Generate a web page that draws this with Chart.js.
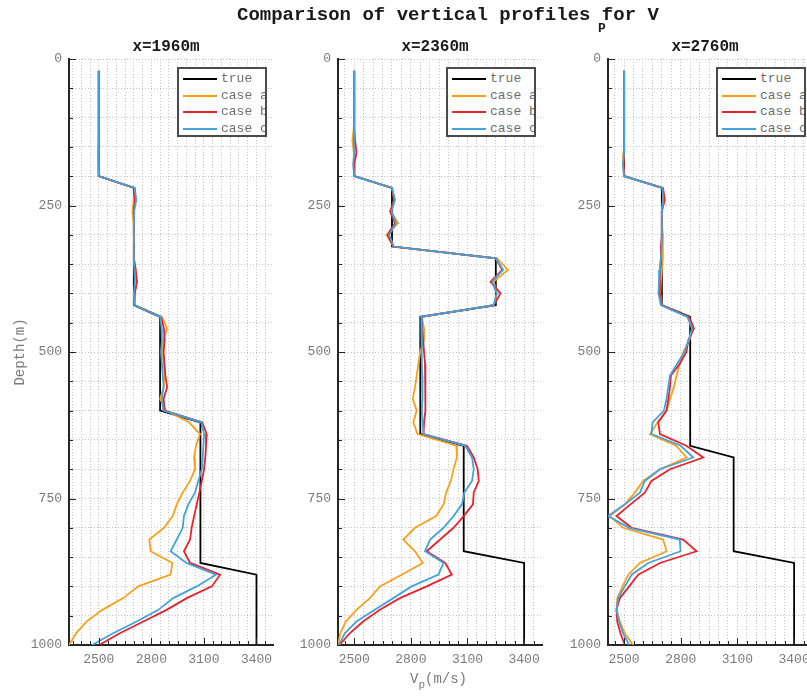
<!DOCTYPE html>
<html>
<head>
<meta charset="utf-8">
<script src="https://cdn.jsdelivr.net/npm/chart.js@4.4.1/dist/chart.umd.min.js"></script>
<style>
  body { margin: 0; background: #fff; }
  #wrap {
    position: relative; width: 807px; height: 696px; overflow: hidden; background: #fff;
    font-family: "Liberation Mono", "DejaVu Sans Mono", monospace;
  }
  canvas { position: absolute; top: 0; }
  .main-title { position: absolute; left: 237px; top: 4px; font-size: 19px; font-weight: bold; line-height: 22px; color: #1a1a1a; white-space: nowrap; }
  .main-sub { position: absolute; left: 598px; top: 21px; font-size: 13px; font-weight: bold; line-height: 16px; color: #1a1a1a; }
  .sub-title { position: absolute; top: 38px; width: 200px; text-align: center; font-size: 16px; font-weight: bold; line-height: 18px; color: #1a1a1a; }
  .legend { position: absolute; top: 67px; width: 90px; height: 70px; box-sizing: border-box; border: 2px solid #4a4a4a; background: #fff; overflow: hidden; }
  .legend .row { position: absolute; left: 0; width: 200px; height: 16px; }
  .legend .swatch { position: absolute; left: 4px; top: 7px; width: 34px; height: 2px; }
  .legend .label { position: absolute; left: 42px; top: 0; font-size: 13px; line-height: 16px; color: #6e6e6e; white-space: nowrap; }
  .x-label { position: absolute; left: 410px; top: 671px; font-size: 14px; line-height: 16px; color: #7a7a7a; white-space: nowrap; }
  .x-label sub { font-size: 11px; vertical-align: -5px; line-height: 0; }
</style>
</head>
<body>
<div id="wrap">
  <canvas id="p1" width="274" height="696" style="left:0px"></canvas>
  <canvas id="p2" width="274" height="696" style="left:269px"></canvas>
  <canvas id="p3" width="274" height="696" style="left:539px"></canvas>
  <div class="main-title">Comparison of vertical profiles for V</div>
  <div class="main-sub">P</div>
  <div class="x-label">V<sub>p</sub>(m/s)</div>
</div>
<script>
// depth samples (m)
const depth = [20, 40, 60, 80, 100, 120, 140, 160, 180, 200,
  220, 240, 260, 280, 300, 320, 340, 360, 380, 400,
  420, 440, 460, 480, 500, 520, 540, 560, 580, 600,
  620, 640, 660, 680, 700, 720, 740, 760, 780, 800,
  820, 840, 860, 880, 900, 920, 940, 960, 980, 1000];

const xMajorTicks = [2500, 2800, 3100, 3400];
const yMajorTicks = [0, 250, 500, 750, 1000];
const panelTitles = ["x=1960m", "x=2360m", "x=2760m"];
const seriesNames = ["true", "case a", "case b", "case c"];
const seriesColors = ["#000000", "#f8a01c", "#e8222c", "#43a3dc"];

// x=1960m
const true1 = [2500, 2500, 2500, 2500, 2500, 2500, 2500, 2500, 2500, 2500,
  2700, 2700, 2700, 2700, 2700, 2700, 2700, 2700, 2700, 2700, 2700,
  2850, 2850, 2850, 2850, 2850, 2850, 2850, 2850, 2850,
  3080, 3080, 3080, 3080, 3080, 3080, 3080, 3080, 3080, 3080, 3080, 3080, 3080,
  3400, 3400, 3400, 3400, 3400, 3400, 3400];
const caseA1 = [2500, 2500, 2500, 2500, 2500, 2500, 2497, 2495, 2497, 2500,
  2705, 2700, 2692, 2700, 2702, 2700, 2700, 2712, 2716, 2706, 2705,
  2860, 2890, 2868, 2866, 2870, 2876, 2870, 2850, 2882,
  3015, 3078, 3055, 3044, 3049, 3021, 2979, 2945, 2922, 2872, 2788, 2796, 2920,
  2910, 2725, 2640, 2520, 2430, 2370, 2330];
const caseB1 = [2500, 2500, 2500, 2500, 2500, 2500, 2497, 2497, 2498, 2500,
  2703, 2706, 2700, 2700, 2700, 2702, 2700, 2710, 2718, 2705, 2703,
  2855, 2872, 2876, 2870, 2875, 2880, 2890, 2870, 2876,
  3090, 3116, 3112, 3108, 3101, 3088, 3074, 3059, 3044, 3030, 3021, 2986, 3021,
  3192, 3145, 3002, 2887, 2754, 2620, 2502];
const caseC1 = [2500, 2500, 2500, 2500, 2500, 2500, 2500, 2500, 2500, 2500,
  2705, 2714, 2702, 2700, 2700, 2700, 2700, 2703, 2706, 2700, 2703,
  2852, 2858, 2860, 2855, 2860, 2865, 2870, 2860, 2868,
  3085, 3101, 3097, 3093, 3088, 3068, 3049, 3011, 2986, 2979, 2945, 2910, 3000,
  3169, 3059, 2925, 2840, 2716, 2582, 2462];

// x=2360m
const true2 = [2500, 2500, 2500, 2500, 2500, 2500, 2500, 2500, 2500, 2500,
  2700, 2700, 2700, 2700, 2700, 2700,
  3250, 3250, 3250, 3250, 3250,
  2850, 2850, 2850, 2850, 2850, 2850, 2850, 2850, 2850, 2850, 2850,
  3080, 3080, 3080, 3080, 3080, 3080, 3080, 3080, 3080, 3080,
  3400, 3400, 3400, 3400, 3400, 3400, 3400, 3400];
const caseA2 = [2500, 2500, 2500, 2500, 2500, 2497, 2490, 2498, 2500, 2502,
  2700, 2712, 2693, 2733, 2671, 2707,
  3257, 3314, 3239, 3257, 3239,
  2858, 2870, 2870, 2849, 2840, 2831, 2822, 2810, 2831, 2813, 2835,
  3041, 3044, 3026, 3012, 2987, 2973, 2934, 2822, 2760, 2822,
  2863, 2751, 2636, 2583, 2512, 2455, 2426, 2414];
const caseB2 = [2500, 2500, 2500, 2500, 2500, 2500, 2505, 2512, 2500, 2500,
  2700, 2712, 2690, 2716, 2676, 2707,
  3250, 3284, 3222, 3275, 3239,
  2858, 2860, 2865, 2870, 2875, 2880, 2878, 2875, 2875, 2870, 2867,
  3097, 3133, 3154, 3160, 3133, 3129, 3080, 3026, 2955, 2884,
  2982, 3017, 2884, 2742, 2636, 2547, 2476, 2422];
const caseC2 = [2500, 2500, 2500, 2500, 2500, 2500, 2500, 2500, 2494, 2500,
  2700, 2716, 2698, 2722, 2685, 2710,
  3250, 3289, 3230, 3254, 3239,
  2855, 2858, 2858, 2858, 2858, 2860, 2862, 2861, 2858, 2863, 2867,
  3088, 3124, 3133, 3124, 3083, 3071, 3026, 2973, 2902, 2875,
  2973, 2946, 2804, 2707, 2609, 2512, 2450, 2418];

// x=2760m
const true3 = [2500, 2500, 2500, 2500, 2500, 2500, 2500, 2500, 2500, 2500,
  2700, 2700, 2700, 2700, 2700, 2700, 2700, 2700, 2700, 2700, 2700,
  2850, 2850, 2850, 2850, 2850, 2850, 2850, 2850, 2850, 2850, 2850, 2850,
  3080, 3080, 3080, 3080, 3080, 3080, 3080, 3080, 3080,
  3400, 3400, 3400, 3400, 3400, 3400, 3400, 3400];
const caseA3 = [2500, 2500, 2500, 2502, 2502, 2500, 2500, 2498, 2495, 2500,
  2705, 2706, 2700, 2700, 2705, 2706, 2705, 2700, 2695, 2692, 2700,
  2840, 2866, 2845, 2813, 2795, 2778, 2764, 2743, 2725, 2678, 2637, 2775,
  2831, 2690, 2601, 2557, 2504, 2425, 2495, 2707, 2725,
  2584, 2522, 2492, 2464, 2460, 2478, 2504, 2548];
const caseB3 = [2500, 2500, 2502, 2502, 2502, 2500, 2500, 2500, 2498, 2502,
  2706, 2716, 2700, 2700, 2700, 2695, 2695, 2690, 2690, 2688, 2698,
  2845, 2870, 2840, 2830, 2795, 2748, 2743, 2734, 2725, 2681, 2690, 2830,
  2919, 2743, 2645, 2610, 2534, 2460, 2540, 2813, 2884,
  2690, 2575, 2527, 2478, 2460, 2464, 2481, 2504];
const caseC3 = [2500, 2500, 2500, 2500, 2500, 2500, 2502, 2500, 2494, 2500,
  2703, 2708, 2700, 2700, 2700, 2698, 2695, 2690, 2685, 2682, 2695,
  2835, 2860, 2842, 2820, 2781, 2743, 2734, 2725, 2711, 2651, 2645, 2800,
  2866, 2690, 2610, 2584, 2504, 2415, 2527, 2795, 2799,
  2628, 2540, 2504, 2469, 2460, 2474, 2495, 2527];

const X_MAX = 3500;
const FONT = "'Liberation Mono', 'DejaVu Sans Mono', monospace";

// MATLAB style inward tick marks
const tickMarks = {
  id: "tickMarks",
  afterDraw(chart) {
    const { ctx, chartArea: a, scales: { x, y } } = chart;
    ctx.save();
    ctx.strokeStyle = "#262626";
    ctx.lineWidth = 1;
    ctx.beginPath();
    x.ticks.forEach((t) => {
      const px = Math.round(x.getPixelForValue(t.value)) + 0.5;
      const len = xMajorTicks.includes(t.value) ? 7 : 4;
      ctx.moveTo(px, a.bottom);
      ctx.lineTo(px, a.bottom - len);
    });
    y.ticks.forEach((t) => {
      const py = Math.round(y.getPixelForValue(t.value)) + 0.5;
      const len = yMajorTicks.includes(t.value) ? 7 : 4;
      ctx.moveTo(a.left, py);
      ctx.lineTo(a.left + len, py);
    });
    ctx.stroke();
    ctx.restore();
  },
};

function makePanel(canvasId, series, showYTitle) {
  const xMin = Math.min(...series.flat());
  const datasets = series.map((vals, i) => ({
    label: seriesNames[i],
    data: vals.map((v, k) => ({ x: v, y: depth[k] })),
    showLine: true,
    fill: false,
    pointRadius: 0,
    borderColor: seriesColors[i],
    borderWidth: 1.8,
    order: 4 - i, // case c on top, true at the bottom
  }));

  new Chart(document.getElementById(canvasId), {
    type: "scatter",
    data: { datasets },
    plugins: [tickMarks],
    options: {
      responsive: false,
      animation: false,
      devicePixelRatio: 1,
      layout: { padding: { top: 59, left: 0, right: 0, bottom: 0 } },
      plugins: {
        legend: { display: false },
        tooltip: { enabled: false },
      },
      scales: {
        x: {
          type: "linear",
          min: xMin,
          max: X_MAX,
          afterFit: (s) => {
            s.height = 51;
            s.paddingLeft = 0;
            s.paddingRight = 0;
          },
          afterBuildTicks: (s) => {
            const t = [];
            for (let v = Math.ceil(xMin / 50) * 50; v <= X_MAX; v += 50) t.push({ value: v });
            s.ticks = t;
          },
          grid: { color: "#c4c4c4", lineWidth: 1, drawTicks: false },
          border: { display: true, color: "#262626", width: 2, dash: [1, 2] },
          ticks: {
            autoSkip: false,
            maxRotation: 0,
            padding: 7,
            color: "#7a7a7a",
            font: { family: FONT, size: 13 },
            callback: (v) => (xMajorTicks.includes(v) ? String(v) : ""),
          },
        },
        y: {
          type: "linear",
          min: 0,
          max: 1000,
          reverse: true,
          afterFit: (s) => {
            s.width = 69;
            s.paddingTop = 0;
            s.paddingBottom = 0;
          },
          afterBuildTicks: (s) => {
            const t = [];
            for (let v = 0; v <= 1000; v += 50) t.push({ value: v });
            s.ticks = t;
          },
          grid: { color: "#c4c4c4", lineWidth: 1, drawTicks: false },
          border: { display: true, color: "#262626", width: 2, dash: [1, 2] },
          ticks: {
            autoSkip: false,
            padding: 7,
            color: "#7a7a7a",
            font: { family: FONT, size: 13 },
            callback: (v) => (yMajorTicks.includes(v) ? String(v) : ""),
          },
          title: {
            display: showYTitle,
            text: "Depth(m)",
            color: "#7a7a7a",
            font: { family: FONT, size: 14 },
            padding: { top: 12, bottom: 0 },
          },
        },
      },
    },
  });
}

makePanel("p1", [true1, caseA1, caseB1, caseC1], true);
makePanel("p2", [true2, caseA2, caseB2, caseC2], false);
makePanel("p3", [true3, caseA3, caseB3, caseC3], false);

// subplot titles and legends (HTML overlays)
const wrap = document.getElementById("wrap");
const axisLefts = [69, 338, 608];
axisLefts.forEach((left, p) => {
  const t = document.createElement("div");
  t.className = "sub-title";
  t.style.left = (left + 97 - 100) + "px";
  t.textContent = panelTitles[p];
  wrap.appendChild(t);

  const lg = document.createElement("div");
  lg.className = "legend";
  lg.style.left = (left + 108) + "px";
  seriesNames.forEach((name, i) => {
    const row = document.createElement("div");
    row.className = "row";
    row.style.top = (2 + i * 16.7) + "px";
    const sw = document.createElement("div");
    sw.className = "swatch";
    sw.style.background = seriesColors[i];
    const lb = document.createElement("div");
    lb.className = "label";
    lb.textContent = name;
    row.appendChild(sw);
    row.appendChild(lb);
    lg.appendChild(row);
  });
  wrap.appendChild(lg);
});
</script>
</body>
</html>
